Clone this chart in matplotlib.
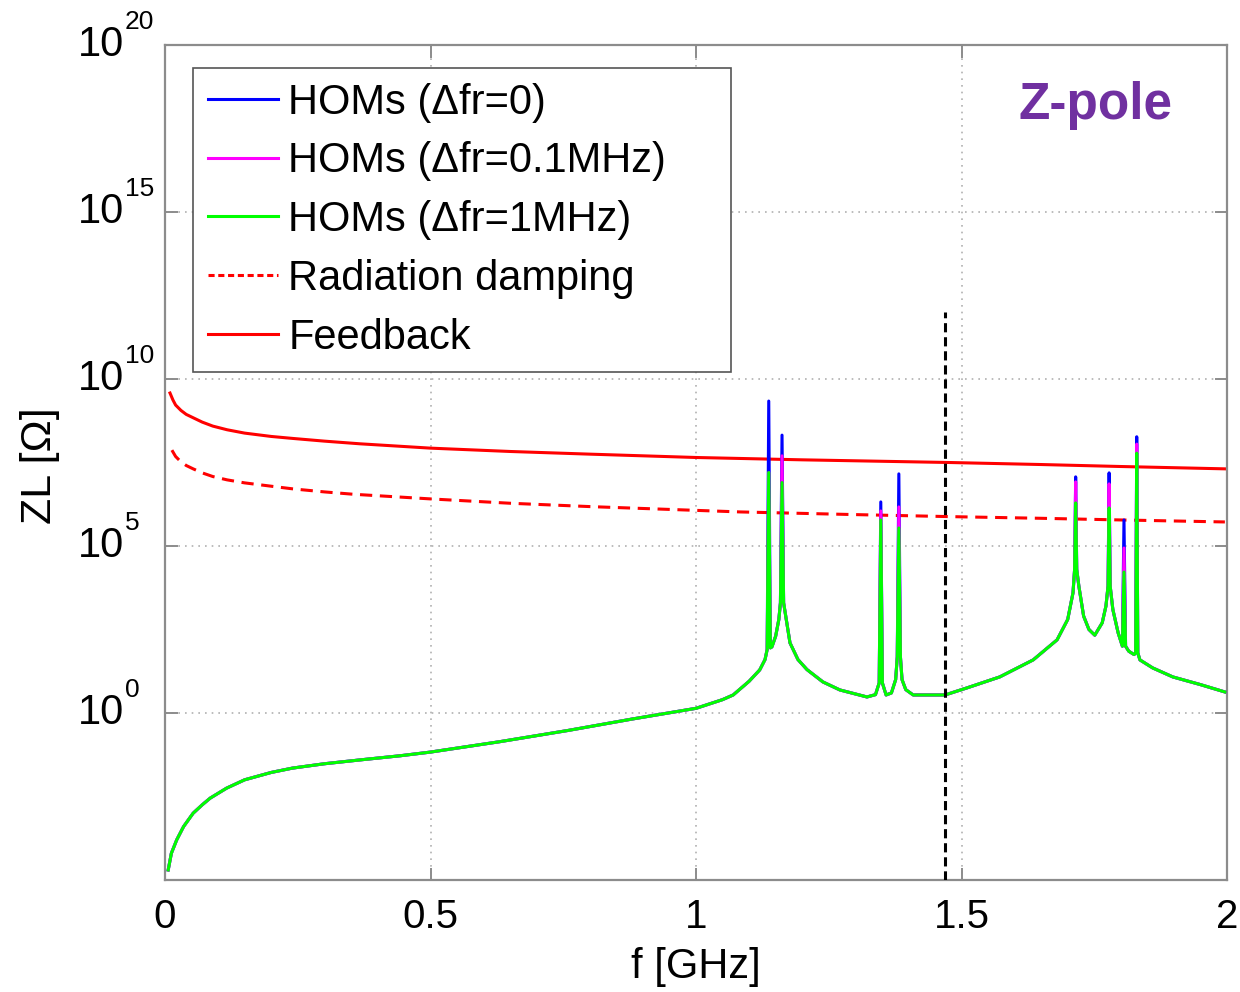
import numpy as np
import matplotlib
matplotlib.use("Agg")
import matplotlib.pyplot as plt
import matplotlib.transforms as mtransforms
from matplotlib.lines import Line2D

plt.rcParams['font.family'] = ['Liberation Sans', 'DejaVu Sans']

# ---------------- data (log10 of |Z| in Ohm, frequency in GHz) ----------------
# HOM impedance (Δfr = 1 MHz) — smooth background and resonance skirts
hom_f = [0.006, 0.012, 0.022, 0.035, 0.053, 0.07, 0.085, 0.116, 0.15, 0.20,
         0.24, 0.30, 0.37, 0.443, 0.50, 0.63, 0.76, 0.88, 1.00, 1.05,
         1.07, 1.10, 1.12, 1.13, 1.134, 1.140, 1.143, 1.150, 1.156, 1.159,
         1.165, 1.168, 1.177, 1.192, 1.209, 1.239, 1.271, 1.322, 1.338, 1.345,
         1.351, 1.358, 1.368, 1.376, 1.379, 1.385, 1.388, 1.395, 1.409, 1.469,
         1.51, 1.572, 1.635, 1.68, 1.70, 1.71, 1.713, 1.717, 1.721, 1.73,
         1.74, 1.751, 1.765, 1.772, 1.776, 1.780, 1.785, 1.795, 1.803, 1.809,
         1.815, 1.825, 1.828, 1.832, 1.836, 1.86, 1.898, 1.95, 1.996]
hom_logz = [-4.7, -4.2, -3.8, -3.4, -3.0, -2.75, -2.55, -2.25, -2.0, -1.78,
            -1.65, -1.52, -1.4, -1.28, -1.17, -0.86, -0.52, -0.18, 0.14, 0.4,
            0.54, 0.95, 1.29, 1.6, 1.9, 1.95, 1.98, 2.3, 2.8, 3.3,
            3.3, 3.0, 2.1, 1.6, 1.3, 0.93, 0.69, 0.48, 0.55, 0.9,
            0.9, 0.54, 0.6, 1.0, 1.68, 1.68, 1.0, 0.7, 0.54, 0.54,
            0.75, 1.08, 1.59, 2.19, 2.8, 3.6, 4.3, 4.3, 3.8, 2.9,
            2.5, 2.33, 2.7, 3.2, 3.8, 3.8, 3.1, 2.4, 2.0, 2.0,
            1.85, 1.75, 1.8, 1.8, 1.59, 1.35, 1.08, 0.85, 0.63]

# resonance peaks: frequency and peak height for the three detunings
peak_f       = [1.137, 1.162, 1.348, 1.382, 1.715, 1.778, 1.806, 1.830]
peak_dfr_0   = [9.34, 8.32, 6.32, 7.16, 7.07, 7.19, 5.78, 8.27]
peak_dfr_01  = [7.20, 7.70, 6.05, 6.17, 6.92, 6.86, 4.94, 8.05]
peak_dfr_1   = [7.20, 6.90, 5.78, 5.54, 6.29, 6.14, 4.22, 7.78]

# radiation damping threshold
rad_f    = [0.013, 0.02, 0.03, 0.04, 0.053, 0.07, 0.09, 0.117, 0.15, 0.2, 0.241,
            0.3, 0.354, 0.5, 0.65, 0.8, 1.083, 1.3, 1.477, 1.648, 1.8, 1.996]
rad_logz = [7.87, 7.68, 7.52, 7.41, 7.31, 7.19, 7.08, 6.98, 6.89, 6.79, 6.71,
            6.62, 6.55, 6.41, 6.28, 6.18, 6.02, 5.94, 5.88, 5.83, 5.78, 5.72]

# feedback threshold
fb_f    = [0.0094, 0.015, 0.02, 0.03, 0.04, 0.053, 0.07, 0.09, 0.117, 0.15, 0.2,
           0.241, 0.3, 0.367, 0.5, 0.65, 0.8, 1.0, 1.2, 1.477, 1.648, 1.8, 1.996]
fb_logz = [9.58, 9.37, 9.22, 9.06, 8.94, 8.84, 8.71, 8.59, 8.48, 8.38, 8.28,
           8.22, 8.14, 8.06, 7.93, 7.83, 7.75, 7.65, 7.58, 7.5, 7.44, 7.38, 7.31]

marker_f = 1.469          # vertical dashed marker
marker_top_logz = 12.0

xticks = [0, 0.5, 1, 1.5, 2]
xticklabels = ['0', '0.5', '1', '1.5', '2']
ytick_exponents = [0, 5, 10, 15, 20]

labels = ['HOMs (\u0394fr=0)', 'HOMs (\u0394fr=0.1MHz)', 'HOMs (\u0394fr=1MHz)',
          'Radiation damping', 'Feedback']


def hom_curve(peaks):
    f = np.array(hom_f + peak_f)
    z = np.array(hom_logz + peaks)
    o = np.argsort(f)
    return f[o], 10.0 ** z[o]


# ---------------- figure ----------------
fig = plt.figure(figsize=(12.4, 9.92), dpi=100)
ax = fig.add_axes([165 / 1240, 112 / 992, 1062 / 1240, 835 / 992])

lw = 2.2
fB, zB = hom_curve(peak_dfr_0)
fM, zM = hom_curve(peak_dfr_01)
fG, zG = hom_curve(peak_dfr_1)
ax.plot(fB, zB, color=(0, 0, 1), lw=lw, zorder=3)
ax.plot(fM, zM, color=(1, 0, 1), lw=lw, zorder=3)
ax.plot(fG, zG, color=(0, 1, 0), lw=lw, zorder=3)
ax.plot(rad_f, 10.0 ** np.array(rad_logz), color=(1, 0, 0), lw=lw,
        dashes=(4, 2.5), zorder=2)
ax.plot(fb_f, 10.0 ** np.array(fb_logz), color=(1, 0, 0), lw=lw, zorder=2)
ax.plot([marker_f, marker_f], [1e-5, 10.0 ** marker_top_logz], color='black',
        lw=2.2, dashes=(3, 1.6), zorder=4)

ax.set_yscale('log')
ax.set_xlim(0, 2)
ax.set_ylim(1e-5, 1e20)
ax.set_xticks(xticks)
ax.set_xticklabels(xticklabels)
yt = [10.0 ** e for e in ytick_exponents]
ax.set_yticks(yt)
ax.set_yticklabels([''] * len(yt))
ax.yaxis.set_minor_locator(matplotlib.ticker.NullLocator())

spine_c = '#8c8c8c'
for s in ax.spines.values():
    s.set_color(spine_c)
    s.set_linewidth(1.6)
ax.tick_params(axis='both', which='major', direction='in', length=9, width=1.4,
               color=spine_c, labelsize=29, top=True, right=True)
ax.tick_params(axis='x', pad=13)

# y tick labels drawn as "10" with a raised exponent (MATLAB look)
ytrans = mtransforms.blended_transform_factory(ax.transAxes, ax.transData)
x_base = (78 - 165) / 1062
for e, v in zip(ytick_exponents, yt):
    ax.text(x_base, v, '10', transform=ytrans, ha='left', va='center',
            fontsize=30, clip_on=False)
    sup = ytrans + mtransforms.ScaledTranslation(47 / 100, 23 / 100, fig.dpi_scale_trans)
    ax.text(x_base, v, str(e), transform=sup, ha='left', va='center',
            fontsize=19, clip_on=False)

ax.grid(True, which='major', color='#b0b0b0', linestyle=(0, (1, 3)), lw=1.2)
ax.set_axisbelow(True)

ax.set_xlabel('f [GHz]', fontsize=30, labelpad=8)
ax.set_ylabel('ZL [\u03a9]', fontsize=31)
ax.yaxis.label.set_verticalalignment('center')
ax.yaxis.set_label_coords((40 - 165) / 1062, (880 - 466) / 835)

ax.text(0.876, 0.911, 'Z-pole', transform=ax.transAxes, ha='center', va='baseline',
        fontsize=37, fontweight='bold', color='#7030A0')

handles = [Line2D([], [], color=(0, 0, 1), lw=2.2),
           Line2D([], [], color=(1, 0, 1), lw=2.2),
           Line2D([], [], color=(0, 1, 0), lw=2.2),
           Line2D([], [], color=(1, 0, 0), lw=2.2, dashes=(2, 1.2)),
           Line2D([], [], color=(1, 0, 0), lw=2.2)]
lx0 = (193 - 165) / 1062
lx1 = (731 - 165) / 1062
ly1 = (880 - 68) / 835
ly0 = (880 - 367) / 835
leg = ax.legend(handles, labels, loc='upper left',
                bbox_to_anchor=(lx0, ly0, lx1 - lx0, ly1 - ly0), mode='expand',
                borderaxespad=0, fontsize=30, handlelength=1.68, handletextpad=0.26,
                labelspacing=0.45, borderpad=0.35, fancybox=False, framealpha=1,
                edgecolor='#555555')
leg.get_frame().set_linewidth(1.2)

fig.savefig('out.png', dpi=100)
